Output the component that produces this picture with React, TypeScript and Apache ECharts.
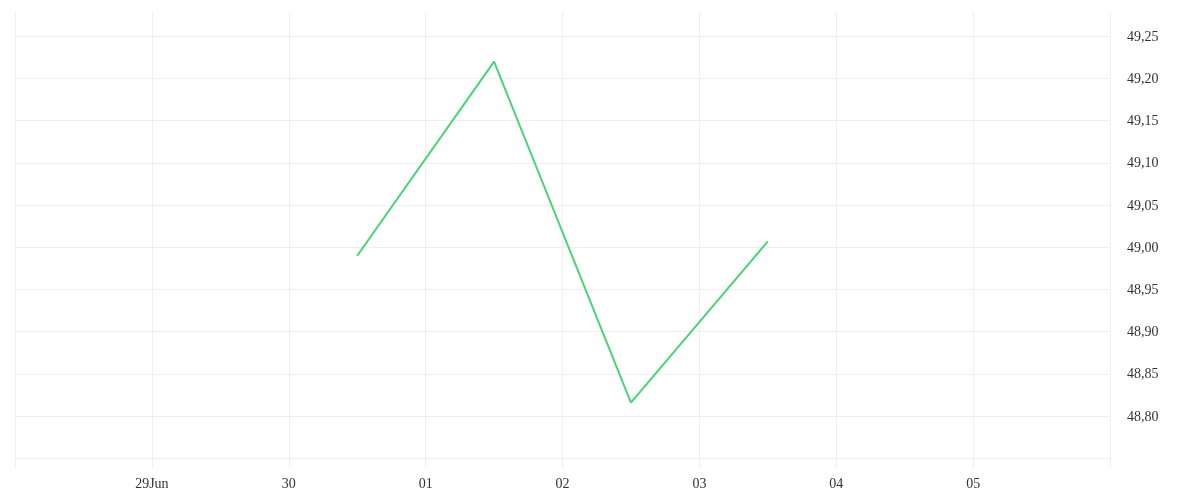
import React, { useEffect, useRef } from 'react'
import * as echarts from 'echarts'

// price points (noon of each day)
const pointDates = ['2020-06-30T12:00:00Z', '2020-07-01T12:00:00Z', '2020-07-02T12:00:00Z', '2020-07-03T12:00:00Z']
const pointValues = [48.99, 49.22, 48.816, 49.007]

// x axis ticks
const tickDates = ['2020-06-29', '2020-06-30', '2020-07-01', '2020-07-02', '2020-07-03', '2020-07-04', '2020-07-05']
const tickLabels = ['29Jun', '30', '01', '02', '03', '04', '05']

const xStart = '2020-06-28T00:00:00Z'
const xEnd = '2020-07-06T00:00:00Z'
const yMin = 48.7385
const yMax = 49.2788
const hiddenYLabels = ['48,75']

const DAY = 86400000
const gridColor = '#efefef'
const labelColor = '#333'

const App: React.FC = () => {
  const chartRef = useRef<HTMLDivElement>(null)

  useEffect(() => {
    if (!chartRef.current) return
    const chart = echarts.init(chartRef.current, undefined, { renderer: 'svg' })

    const tickMap = new Map<number, string>()
    tickDates.forEach((d, i) => tickMap.set(Date.parse(d + 'T00:00:00Z'), tickLabels[i]))

    const option = {
      animation: false,
      grid: {
        left: 15,
        right: 90,
        top: 12,
        bottom: 32,
        outerBoundsMode: 'none',
      },
      xAxis: {
        type: 'value',
        min: Date.parse(xStart),
        max: Date.parse(xEnd),
        interval: DAY,
        axisLine: { show: false },
        axisTick: { show: false },
        axisLabel: {
          color: labelColor,
          fontFamily: 'serif',
          fontSize: 14,
          margin: 8,
          showMinLabel: false,
          showMaxLabel: false,
          formatter: (v: number) => tickMap.get(v) ?? '',
        },
        splitLine: {
          show: true,
          showMinLine: true,
          showMaxLine: false,
          lineStyle: { color: gridColor, width: 1 },
        },
      },
      yAxis: {
        type: 'value',
        position: 'right',
        min: yMin,
        max: yMax,
        splitNumber: 10,
        axisLine: { show: true, lineStyle: { color: gridColor, width: 1 } },
        axisTick: { show: false },
        axisLabel: {
          color: labelColor,
          fontFamily: 'serif',
          fontSize: 14,
          margin: 17,
          showMinLabel: false,
          showMaxLabel: false,
          formatter: (v: number) => {
            const s = v.toFixed(2).replace('.', ',')
            return hiddenYLabels.includes(s) ? '' : s
          },
        },
        splitLine: {
          show: true,
          showMinLine: false,
          showMaxLine: false,
          lineStyle: { color: gridColor, width: 1 },
        },
      },
      series: [
        {
          type: 'line',
          data: pointDates.map((d, i) => [Date.parse(d), pointValues[i]]),
          showSymbol: false,
          lineStyle: { color: '#4cd27a', width: 2 },
          itemStyle: { color: '#4cd27a' },
          emphasis: { disabled: true },
        },
      ],
    }

    chart.setOption(option)

    return () => {
      chart.dispose()
    }
  }, [])

  return (
    <div
      ref={chartRef}
      style={{ position: 'fixed', left: 0, top: 0, width: 1200, height: 500 }}
    />
  )
}

export default App
